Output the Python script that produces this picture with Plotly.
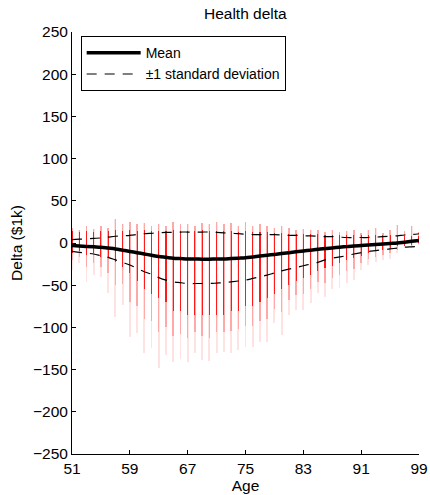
import plotly.graph_objects as go

ages = list(range(51, 100))

mean = [-3, -3.5, -4, -4.5, -5, -6, -7, -8.5, -10, -11.5, -13, -14.5, -16, -17, -18, -18.5,
        -19, -19, -19.2, -19.2, -19, -19, -18.5, -18, -17.5, -16.5, -15.5, -14.5, -13.5, -12.5,
        -11.5, -10.5, -9.5, -8.5, -7.5, -6.5, -5.8, -5, -4.3, -3.6, -3, -2.4, -1.8, -1.2, -0.6,
        0, 1, 2, 3]

std_upper = [4, 4.5, 5, 5.5, 6, 7, 8, 8.5, 9, 10, 11, 11.5, 12, 12.5, 12.5, 13, 13, 13, 13, 13,
             12.5, 12, 11.5, 11, 10.5, 10, 10, 10, 10, 9.5, 9, 9, 8.5, 8.5, 8, 7.5, 7.5, 7, 6.5,
             6.5, 6.5, 6.5, 7, 7.5, 8, 8.5, 9.5, 10, 11]

std_lower = [-10, -11, -12, -13, -15, -17, -20, -23, -26, -30, -34, -37, -41, -44, -46, -47,
             -48, -48, -48, -48, -47.5, -47, -46, -45, -44, -42, -40, -38, -35.5, -33, -31, -29,
             -27, -25, -23, -20, -18, -16.5, -15, -13, -11.5, -10, -9, -8, -7, -6, -5, -4.5, -4]

cloud_top = [18, 16, 20, 17, 20, 18, 28, 22, 25, 22, 24, 20, 22, 20, 25, 22, 23, 20, 24, 22,
             25, 22, 24, 20, 25, 20, 22, 20, 18, 20, 18, 15, 17, 15, 16, 13, 15, 13, 14, 15,
             12, 15, 18, 12, 15, 21, 14, 20, 13]

cloud_bottom = [-32, -24, -46, -38, -40, -59, -88, -73, -111, -107, -130, -124, -148, -133,
                -141, -137, -141, -130, -139, -140, -130, -129, -130, -127, -123, -123, -117,
                -117, -95, -109, -85, -79, -79, -71, -59, -64, -55, -53, -47, -44, -32, -26,
                -22, -20, -19, -12, -6, -5, -2]

mid_bottom = [-20, -16, -28, -24, -28, -36, -50, -48, -70, -75, -90, -92, -105, -100, -110,
              -108, -112, -105, -110, -112, -106, -105, -104, -102, -98, -98, -92, -90, -78,
              -82, -68, -62, -60, -55, -46, -47, -41, -38, -33, -31, -24, -19, -16, -14, -12,
              -8, -4, -3, -1]

core_top = [14, 13, 14, 13, 14, 14, 15, 14, 15, 14, 15, 14, 14, 14, 15, 14, 14, 14, 15, 14,
            14, 14, 14, 13, 14, 13, 13, 13, 12, 12, 11, 11, 11, 11, 11, 10, 10, 10, 10, 10,
            9, 9, 9, 9, 9, 8, 8, 8, 8]

core_bottom = [-12, -10, -14, -12, -16, -18, -22, -28, -35, -45, -55, -60, -65, -70, -80, -80,
               -85, -85, -85, -85, -85, -85, -80, -80, -75, -75, -70, -65, -60, -55, -50, -45,
               -42, -38, -33, -30, -27, -24, -20, -18, -15, -12, -10, -8, -6, -4, -3, -2, 0]

x_ticks = [51, 59, 67, 75, 83, 91, 99]
y_ticks = [-250, -200, -150, -100, -50, 0, 50, 100, 150, 200, 250]

FONT = "Liberation Sans, Arial, Helvetica, sans-serif"
FS = 15.5

fig = go.Figure()

def cloud(lo, hi, color, w):
    fig.add_trace(go.Bar(
        x=ages, y=[h - l for h, l in zip(hi, lo)], base=lo, width=w,
        marker=dict(color=color, line=dict(width=0)), showlegend=False, hoverinfo="skip"))

cloud(cloud_bottom, cloud_top, "rgba(255,0,0,0.11)", 0.26)
cloud(mid_bottom, cloud_top, "rgba(255,0,0,0.26)", 0.2)
cloud(core_bottom, core_top, "rgba(255,0,0,0.85)", 0.15)

fig.add_trace(go.Scatter(x=ages, y=mean, mode="lines", name="Mean",
                         line=dict(color="black", width=3.5, shape="spline")))
fig.add_trace(go.Scatter(x=ages, y=std_upper, mode="lines", name="±1 standard deviation",
                         line=dict(color="black", width=1.2, dash="10px,8px", shape="spline")))
fig.add_trace(go.Scatter(x=ages, y=std_lower, mode="lines", name="±1 standard deviation",
                         showlegend=False,
                         line=dict(color="black", width=1.2, dash="10px,8px", shape="spline")))

axis_common = dict(showline=True, linecolor="black", linewidth=1, ticks="inside",
                   ticklen=4, tickcolor="black", showgrid=False, zeroline=False,
                   mirror=False, automargin=False, tickfont=dict(size=FS, color="black"))

fig.update_layout(
    width=430, height=495,
    margin=dict(l=72, r=11, t=32, b=41),
    paper_bgcolor="white", plot_bgcolor="white",
    font=dict(family=FONT, size=FS, color="black"),
    barmode="overlay", bargap=0,
    title=dict(text="Health delta", x=0.5706, xanchor="center", y=0.972, yanchor="middle",
               font=dict(size=FS, color="black")),
    xaxis=dict(range=[51, 99], tickvals=x_ticks,
               title=dict(text="Age", standoff=0, font=dict(size=FS)), **axis_common),
    yaxis=dict(range=[-250, 250], tickvals=y_ticks,
               title=dict(text="Delta ($1k)", standoff=6, font=dict(size=FS)), **axis_common),
    legend=dict(x=0.025, y=0.99, xanchor="left", yanchor="top", bgcolor="white",
                bordercolor="black", borderwidth=1, font=dict(size=14, color="black"),
                tracegroupgap=0, itemwidth=54),
)

fig.write_html("out.html", config={"displayModeBar": False},
               post_script="document.body.style.margin='0';document.body.style.overflow='hidden';")
